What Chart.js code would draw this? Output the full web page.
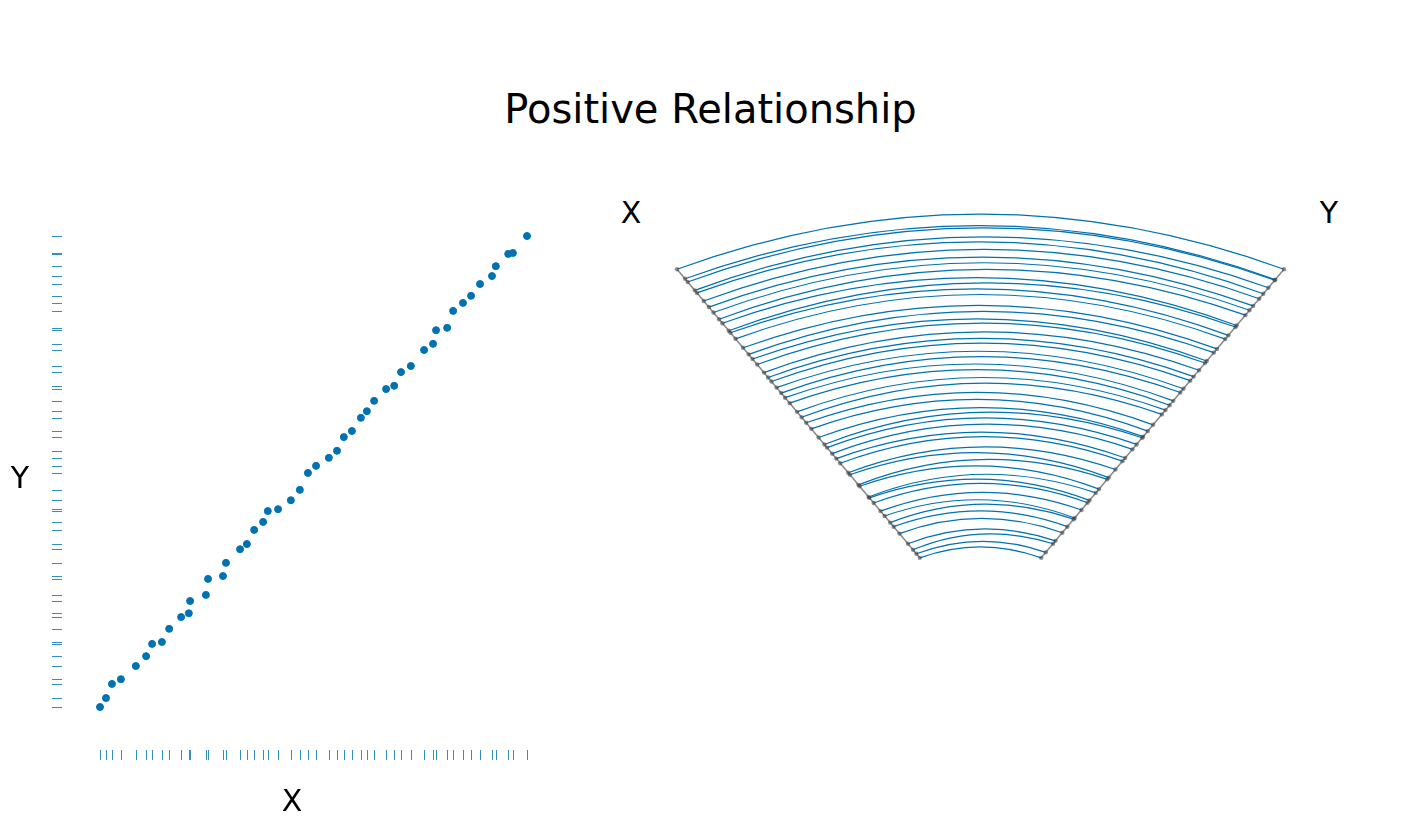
<!DOCTYPE html>
<html>
<head>
<meta charset="utf-8">
<script src="https://cdn.jsdelivr.net/npm/chart.js@4"></script>
<style>
  body { margin: 0; background: #fff; width: 1421px; height: 828px; position: relative; overflow: hidden; font-family: "DejaVu Sans", sans-serif; }
  .box { position: absolute; }
  .lbl { position: absolute; font-size: 30px; color: #000; transform: translate(-50%, -50%); }
  #title { position: absolute; left: 0; width: 1421px; top: 86px; text-align: center; font-size: 40px; }
</style>
</head>
<body>
<div id="title">Positive Relationship</div>
<div class="box" style="left:0;top:180px;width:580px;height:640px"><canvas id="scatter"></canvas></div>
<div class="box" style="left:646px;top:108px;width:669px;height:526px"><canvas id="fan"></canvas></div>
<div class="lbl" style="left:20px;top:477px">Y</div>
<div class="lbl" style="left:292px;top:800px">X</div>
<div class="lbl" style="left:631px;top:212px">X</div>
<div class="lbl" style="left:1329px;top:212px">Y</div>
<script>
var xValues = [0, 1.4, 2.8, 4.9, 8.4, 10.8, 12.2, 14.5, 16.2, 19.0, 20.8, 21.1, 24.8, 25.3, 28.8, 29.5, 32.8, 34.4, 36.1, 38.2,
  39.3, 41.7, 44.7, 46.8, 48.7, 50.6, 53.6, 55.5, 57.1, 59.0, 61.1, 62.5, 64.2, 67.0, 68.9, 70.5, 72.8, 75.9, 78.0, 78.7,
  81.3, 82.7, 85.0, 86.9, 89.0, 91.8, 92.7, 95.6, 96.7, 100];
var yValues = [0, 1.9, 4.9, 5.9, 8.7, 10.8, 13.4, 13.8, 16.6, 19.1, 19.9, 22.5, 23.8, 27.2, 27.8, 30.6, 33.5, 34.6, 37.6, 39.3,
  41.6, 42.0, 43.9, 46.1, 49.7, 51.2, 52.9, 54.4, 57.3, 58.6, 61.4, 62.8, 65.0, 67.5, 68.2, 71.1, 72.4, 75.8, 77.1, 80.0,
  80.5, 84.1, 85.8, 87.3, 89.8, 91.5, 93.6, 96.2, 96.4, 100];

var blue = '#0072B2';
var points = xValues.map(function (x, i) { return { x: x, y: yValues[i] }; });

// rug ticks along both axes
var rugPlugin = {
  id: 'rug',
  afterDatasetsDraw: function (chart) {
    var ctx = chart.ctx, xs = chart.scales.x, ys = chart.scales.y, area = chart.chartArea;
    ctx.save();
    ctx.strokeStyle = blue;
    ctx.globalAlpha = 0.8;
    ctx.lineWidth = 1;
    ctx.beginPath();
    for (var i = 0; i < xValues.length; i++) {
      var px = Math.round(xs.getPixelForValue(xValues[i])) + 0.5;
      ctx.moveTo(px, area.bottom + 43);
      ctx.lineTo(px, area.bottom + 53);
      var py = Math.round(ys.getPixelForValue(yValues[i])) + 0.5;
      ctx.moveTo(area.left - 48, py);
      ctx.lineTo(area.left - 38, py);
    }
    ctx.stroke();
    ctx.restore();
  }
};

new Chart(document.getElementById('scatter'), {
  type: 'scatter',
  data: { datasets: [{ data: points, backgroundColor: blue, borderColor: blue, pointRadius: 3.5 }] },
  options: {
    responsive: true, maintainAspectRatio: false, animation: false,
    layout: { padding: { left: 100, top: 56, right: 53, bottom: 113 } },
    plugins: { legend: { display: false }, tooltip: { enabled: false } },
    clip: false,
    scales: {
      x: { display: false, min: 0, max: 100 },
      y: { display: false, min: 0, max: 100 }
    }
  },
  plugins: [rugPlugin]
});

// fan: radius from value, edges at +-40 degrees from vertical
var rInner = 0.2, rOuter = 1, half = 40 * Math.PI / 180;
function radius(v) { return rInner + (rOuter - rInner) * v / 100; }
var leftEdge = xValues.map(function (v) { var r = radius(v); return { x: -r * Math.sin(half), y: r * Math.cos(half) }; });
var rightEdge = yValues.map(function (v) { var r = radius(v); return { x: r * Math.sin(half), y: r * Math.cos(half) }; });

var arcPlugin = {
  id: 'arcs',
  beforeDatasetsDraw: function (chart) {
    var ctx = chart.ctx, xs = chart.scales.x, ys = chart.scales.y;
    ctx.save();
    ctx.strokeStyle = blue;
    ctx.lineWidth = 1.2;
    for (var i = 0; i < xValues.length; i++) {
      var a = leftEdge[i], b = rightEdge[i];
      var c = (radius(xValues[i]) + radius(yValues[i])) / 2;
      ctx.beginPath();
      ctx.moveTo(xs.getPixelForValue(a.x), ys.getPixelForValue(a.y));
      ctx.quadraticCurveTo(xs.getPixelForValue(0), ys.getPixelForValue(c), xs.getPixelForValue(b.x), ys.getPixelForValue(b.y));
      ctx.stroke();
    }
    // axis edges
    ctx.strokeStyle = '#888';
    ctx.lineWidth = 1.5;
    ctx.beginPath();
    ctx.moveTo(xs.getPixelForValue(-rInner * Math.sin(half)), ys.getPixelForValue(rInner * Math.cos(half)));
    ctx.lineTo(xs.getPixelForValue(-rOuter * Math.sin(half)), ys.getPixelForValue(rOuter * Math.cos(half)));
    ctx.moveTo(xs.getPixelForValue(rInner * Math.sin(half)), ys.getPixelForValue(rInner * Math.cos(half)));
    ctx.lineTo(xs.getPixelForValue(rOuter * Math.sin(half)), ys.getPixelForValue(rOuter * Math.cos(half)));
    ctx.stroke();
    ctx.restore();
  }
};

new Chart(document.getElementById('fan'), {
  type: 'scatter',
  data: {
    datasets: [
      { data: leftEdge, backgroundColor: 'rgba(60,60,60,0.55)', borderWidth: 0, pointRadius: 2.2 },
      { data: rightEdge, backgroundColor: 'rgba(60,60,60,0.55)', borderWidth: 0, pointRadius: 2.2 }
    ]
  },
  options: {
    responsive: true, maintainAspectRatio: false, animation: false,
    layout: { padding: 0 },
    plugins: { legend: { display: false }, tooltip: { enabled: false } },
    clip: false,
    scales: {
      x: { display: false, min: -0.7, max: 0.7 },
      y: { display: false, min: 0, max: 1.1 }
    }
  },
  plugins: [arcPlugin]
});
</script>
</body>
</html>
